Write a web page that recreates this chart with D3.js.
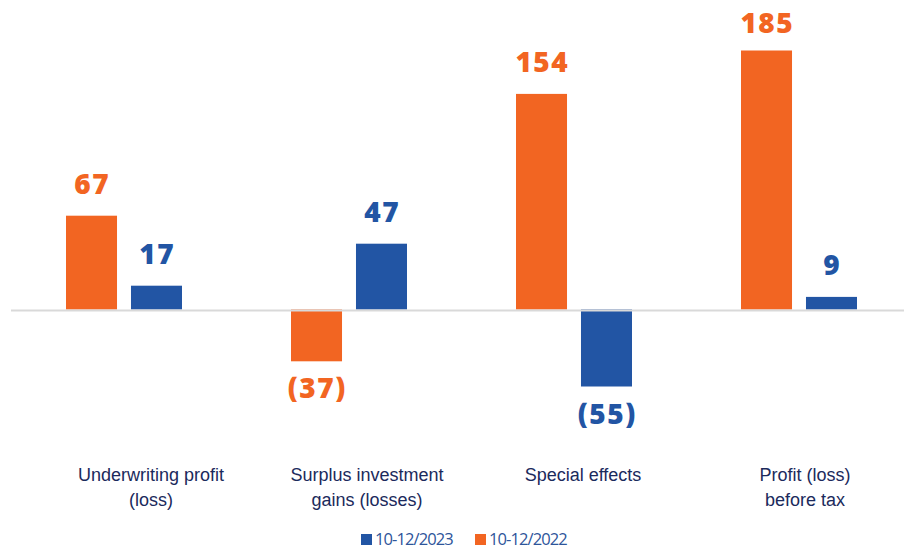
<!DOCTYPE html>
<html>
<head>
<meta charset="utf-8">
<script src="https://cdn.jsdelivr.net/npm/d3@7"></script>
<style>
  html, body { margin: 0; padding: 0; background: #fff; }
  svg { display: block; }
</style>
</head>
<body>
<div id="chart"></div>
<script>
// Quarterly result components, EUR millions
const categories = [
  ["Underwriting profit", "(loss)"],
  ["Surplus investment", "gains (losses)"],
  ["Special effects"],
  ["Profit (loss)", "before tax"]
];
const seriesNames = ["10-12/2022", "10-12/2023"];
const values2022 = [67, -37, 154, 185];
const values2023 = [17, 47, -55, 9];
const legendItems = ["10-12/2023", "10-12/2022"];

const colors = { "10-12/2022": "#F26522", "10-12/2023": "#2255A4" };
const seriesValues = { "10-12/2022": values2022, "10-12/2023": values2023 };

const W = 904, H = 549;
const svg = d3.select("#chart").append("svg").attr("width", W).attr("height", H);

// one band per category, two bars inside each band
const x0 = d3.scaleBand().domain(d3.range(categories.length)).range([11, 911]);
const inner = d3.scaleBand().domain(seriesNames).range([0, 116]).paddingInner(0.215);
const y = d3.scaleLinear().domain([-100, 200]).range([449.5, 29.5]);

const groupOffset = 55;
const groups = svg.selectAll("g.grp").data(categories).join("g")
  .attr("class", "grp")
  .attr("transform", (d, i) => `translate(${x0(i) + groupOffset},0)`);

seriesNames.forEach(s => {
  groups.append("rect")
    .attr("x", inner(s))
    .attr("width", inner.bandwidth())
    .attr("y", (d, i) => y(Math.max(0, seriesValues[s][i])))
    .attr("height", (d, i) => Math.abs(y(seriesValues[s][i]) - y(0)))
    .attr("fill", colors[s]);

  groups.append("text")
    .attr("x", inner(s) + inner.bandwidth() / 2 + 0.75)
    .attr("y", (d, i) => {
      const v = seriesValues[s][i];
      return v >= 0 ? Math.max(33, y(v) - 22) : y(v) + 37;
    })
    .attr("text-anchor", "middle")
    .attr("font-family", "'Open Sans', sans-serif")
    .attr("font-weight", 800)
    .attr("font-size", 28)
    .attr("letter-spacing", 1.5)
    .attr("fill", colors[s])
    .text((d, i) => {
      const v = seriesValues[s][i];
      return v < 0 ? `(${Math.abs(v)})` : `${v}`;
    });
});

// zero baseline
svg.append("line")
  .attr("x1", 11).attr("x2", W)
  .attr("y1", y(0) + 1).attr("y2", y(0) + 1)
  .attr("stroke", "#D9D9D9").attr("stroke-width", 2);

// category labels
const labelShift = [27, 18, 9, 6];
const groupMid = inner.range()[1] / 2;
groups.append("text")
  .attr("text-anchor", "middle")
  .attr("font-family", "Arial, 'Liberation Sans', sans-serif")
  .attr("font-size", 18)
  .attr("fill", "#1B2A5C")
  .each(function (d, i) {
    const t = d3.select(this);
    d.forEach((line, k) => {
      t.append("tspan")
        .attr("x", groupMid + labelShift[i])
        .attr("y", 481 + k * 25)
        .text(line);
    });
  });

// legend
const legend = svg.append("g").attr("transform", "translate(361,0)");
legendItems.forEach((s, i) => {
  const g = legend.append("g").attr("transform", `translate(${i * 114},0)`);
  g.append("rect").attr("x", 0).attr("y", 534).attr("width", 11).attr("height", 11).attr("fill", colors[s]);
  g.append("text").attr("x", 14).attr("y", 545)
    .attr("font-family", "'Open Sans', sans-serif")
    .attr("font-size", 16.5)
    .attr("letter-spacing", -0.9)
    .attr("fill", "#2E559A")
    .text(s);
});
</script>
</body>
</html>
